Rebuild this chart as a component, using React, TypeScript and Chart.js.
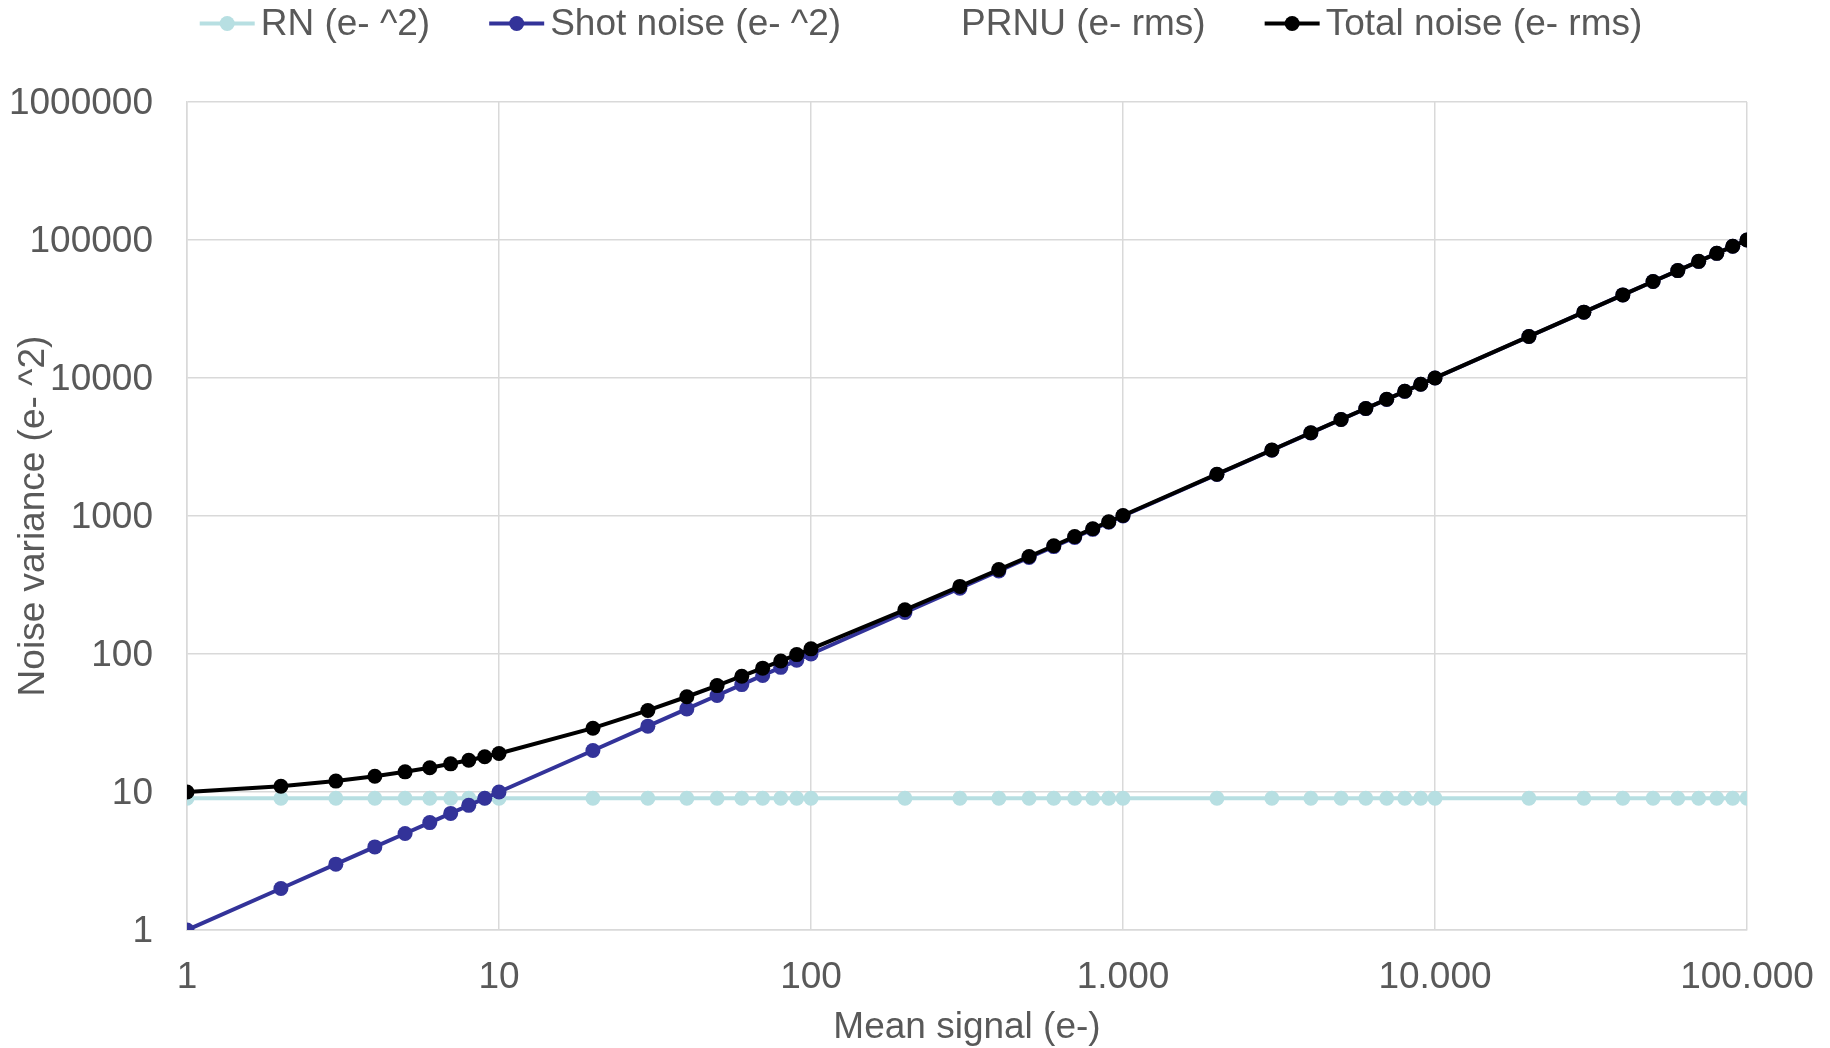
import React, { useEffect, useRef } from 'react';
import { Chart, registerables } from 'chart.js';

Chart.register(...registerables);

const FONT = '"Liberation Sans", Arial, sans-serif';
const FONT_SIZE = 37;
const TEXT_COLOR = '#595959';
const GRID_COLOR = '#d9d9d9';

// Mean signal (e-)
const signal = [
  1, 2, 3, 4, 5, 6, 7, 8, 9, 10,
  20, 30, 40, 50, 60, 70, 80, 90, 100,
  200, 300, 400, 500, 600, 700, 800, 900, 1000,
  2000, 3000, 4000, 5000, 6000, 7000, 8000, 9000, 10000,
  20000, 30000, 40000, 50000, 60000, 70000, 80000, 90000, 100000,
];

// RN (e- ^2)
const rnValues = [
  9, 9, 9, 9, 9, 9, 9, 9, 9, 9,
  9, 9, 9, 9, 9, 9, 9, 9, 9,
  9, 9, 9, 9, 9, 9, 9, 9, 9,
  9, 9, 9, 9, 9, 9, 9, 9, 9,
  9, 9, 9, 9, 9, 9, 9, 9, 9,
];

// Shot noise (e- ^2)
const shotValues = [
  1, 2, 3, 4, 5, 6, 7, 8, 9, 10,
  20, 30, 40, 50, 60, 70, 80, 90, 100,
  200, 300, 400, 500, 600, 700, 800, 900, 1000,
  2000, 3000, 4000, 5000, 6000, 7000, 8000, 9000, 10000,
  20000, 30000, 40000, 50000, 60000, 70000, 80000, 90000, 100000,
];

// PRNU (e- rms) — zero everywhere, so nothing is drawn on the log axis
const prnuValues = [
  0, 0, 0, 0, 0, 0, 0, 0, 0, 0,
  0, 0, 0, 0, 0, 0, 0, 0, 0,
  0, 0, 0, 0, 0, 0, 0, 0, 0,
  0, 0, 0, 0, 0, 0, 0, 0, 0,
  0, 0, 0, 0, 0, 0, 0, 0, 0,
];

// Total noise (e- rms)
const totalValues = [
  10, 11, 12, 13, 14, 15, 16, 17, 18, 19,
  29, 39, 49, 59, 69, 79, 89, 99, 109,
  209, 309, 409, 509, 609, 709, 809, 909, 1009,
  2009, 3009, 4009, 5009, 6009, 7009, 8009, 9009, 10009,
  20009, 30009, 40009, 50009, 60009, 70009, 80009, 90009, 100009,
];

const seriesLabels = ['RN (e- ^2)', 'Shot noise (e- ^2)', 'PRNU (e- rms)', 'Total noise (e- rms)'];
const seriesColors = ['#b7dfe2', '#333399', 'rgba(0,0,0,0)', '#000000'];

const xTicks = [1, 10, 100, 1000, 10000, 100000];
const yTicks = [1, 10, 100, 1000, 10000, 100000, 1000000];

const xAxisTitle = 'Mean signal (e-)';
const yAxisTitle = 'Noise variance (e- ^2)';

const formatThousands = (v: number) =>
  String(Math.round(v)).replace(/\B(?=(\d{3})+(?!\d))/g, '.');

const legendPlugin = {
  id: 'excelLegend',
  afterDraw(chart: any) {
    const ctx = chart.ctx as CanvasRenderingContext2D;
    ctx.save();
    ctx.font = `${FONT_SIZE}px ${FONT}`;
    const LINE = 55;
    const GAP = 6;
    const SPACING = 59;
    const lineY = 23.5;
    const baseline = 35;
    const items = chart.data.datasets.map((ds: any) => ({
      label: ds.label as string,
      color: ds.borderColor as string,
    }));
    const widths = items.map((it: any) => LINE + GAP + ctx.measureText(it.label).width);
    const total = widths.reduce((a: number, b: number) => a + b, 0) + SPACING * (items.length - 1);
    let x = 921 - total / 2;
    items.forEach((it: any, i: number) => {
      if (it.color !== 'rgba(0,0,0,0)') {
        ctx.strokeStyle = it.color;
        ctx.lineWidth = 4;
        ctx.beginPath();
        ctx.moveTo(x, lineY);
        ctx.lineTo(x + LINE, lineY);
        ctx.stroke();
        ctx.fillStyle = it.color;
        ctx.beginPath();
        ctx.arc(x + LINE / 2, lineY, 7.5, 0, Math.PI * 2);
        ctx.fill();
      }
      ctx.fillStyle = TEXT_COLOR;
      ctx.textBaseline = 'alphabetic';
      ctx.textAlign = 'left';
      ctx.fillText(it.label, x + LINE + GAP, baseline);
      x += widths[i] + SPACING;
    });
    ctx.restore();
  },
};

export default function App() {
  const canvasRef = useRef<HTMLCanvasElement | null>(null);

  useEffect(() => {
    if (!canvasRef.current) return;
    const valueSets = [rnValues, shotValues, prnuValues, totalValues];
    const orders = [4, 3, 2, 1];
    const datasets = valueSets.map((vals, i) => ({
      label: seriesLabels[i],
      data: signal.map((x, j) => ({ x, y: vals[j] })),
      borderColor: seriesColors[i],
      backgroundColor: seriesColors[i],
      pointBackgroundColor: seriesColors[i],
      pointBorderColor: seriesColors[i],
      pointBorderWidth: 0,
      pointRadius: 7.5,
      pointHoverRadius: 7.5,
      borderWidth: 4,
      tension: 0,
      fill: false,
      order: orders[i],
    }));

    const chart = new Chart(canvasRef.current, {
      type: 'line',
      data: { datasets },
      plugins: [legendPlugin],
      options: {
        responsive: false,
        animation: false,
        devicePixelRatio: 1,
        layout: { padding: { top: 102, right: 83, left: 0, bottom: 0 } },
        plugins: {
          legend: { display: false },
          tooltip: { enabled: false },
        },
        scales: {
          x: {
            type: 'logarithmic',
            position: 'bottom',
            min: 1,
            max: 100000,
            afterBuildTicks: (scale: any) => {
              scale.ticks = xTicks.map((v) => ({ value: v }));
            },
            afterFit: (scale: any) => {
              scale.height = 118;
              scale.paddingLeft = 0;
              scale.paddingRight = 0;
            },
            ticks: {
              autoSkip: false,
              maxRotation: 0,
              padding: 26,
              color: TEXT_COLOR,
              font: { family: FONT, size: FONT_SIZE },
              callback: (v: any) => formatThousands(Number(v)),
            },
            grid: { color: GRID_COLOR, lineWidth: 1.5, drawTicks: false },
            border: { color: GRID_COLOR, width: 1.5 },
            title: {
              display: true,
              text: xAxisTitle,
              color: TEXT_COLOR,
              font: { family: FONT, size: FONT_SIZE },
              padding: { top: 0, bottom: -2 },
            },
          },
          y: {
            type: 'logarithmic',
            min: 1,
            max: 1000000,
            afterBuildTicks: (scale: any) => {
              scale.ticks = yTicks.map((v) => ({ value: v }));
            },
            afterFit: (scale: any) => {
              scale.width = 187;
              scale.paddingTop = 0;
              scale.paddingBottom = 0;
            },
            ticks: {
              autoSkip: false,
              padding: 34,
              labelOffset: 2,
              color: TEXT_COLOR,
              font: { family: FONT, size: FONT_SIZE },
              callback: (v: any) => String(Math.round(Number(v))),
            },
            grid: { color: GRID_COLOR, lineWidth: 1.5, drawTicks: false },
            border: { color: GRID_COLOR, width: 1.5 },
            title: {
              display: true,
              text: yAxisTitle,
              color: TEXT_COLOR,
              font: { family: FONT, size: FONT_SIZE },
              padding: { top: 12, bottom: 0 },
            },
          },
        },
      },
    });
    return () => chart.destroy();
  }, []);

  return (
    <div style={{ position: 'absolute', left: 0, top: 0, width: 1830, height: 1048, background: '#fff' }}>
      <canvas ref={canvasRef} width={1830} height={1048} />
    </div>
  );
}
